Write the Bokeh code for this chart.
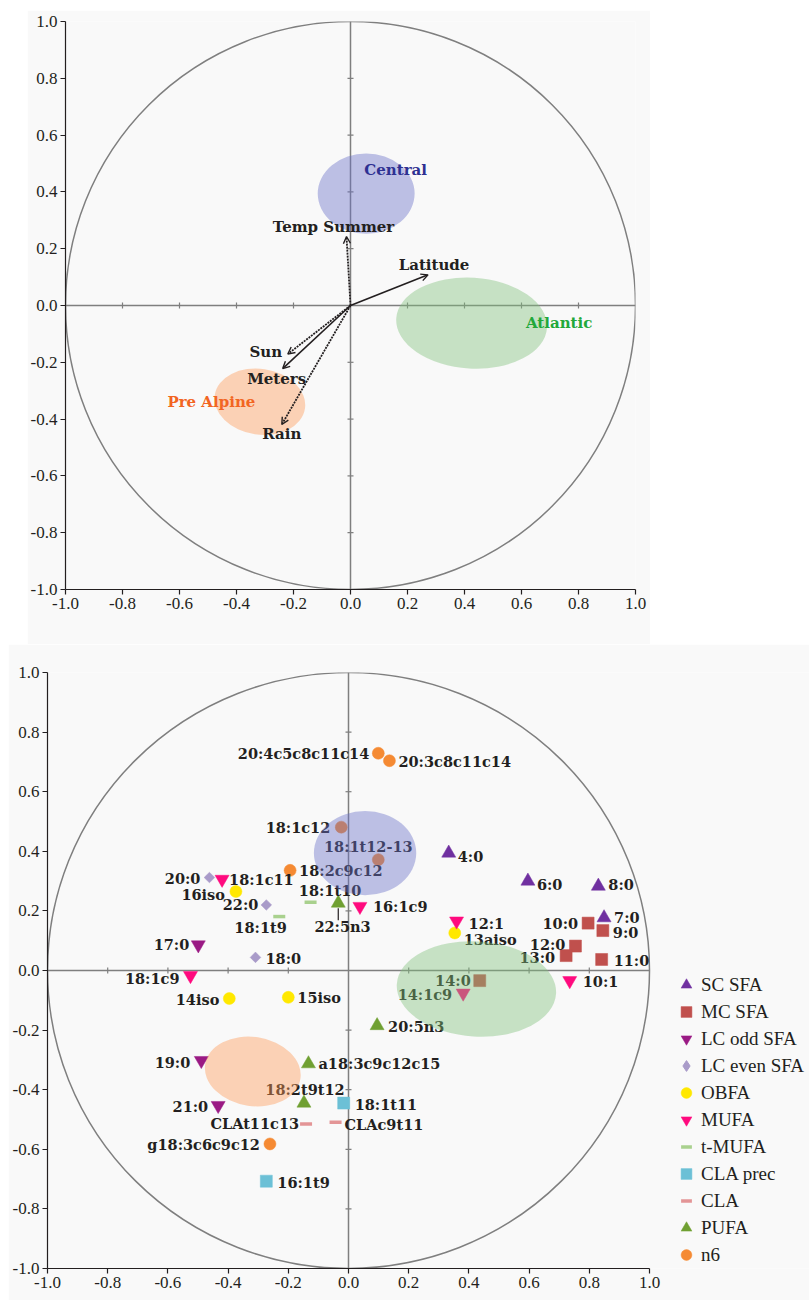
import math
import numpy as np
from bokeh.plotting import figure
from bokeh.models import (ColumnDataSource, Range1d, Arrow, OpenHead, Legend, LegendItem,
                          Spacer, FixedTicker, CustomJSTickFormatter)
from bokeh.layouts import column, row
from bokeh.embed import file_html
from bokeh.resources import INLINE
from bokeh.core.properties import value, field

# ------------------------------------------------------------------ data
TICKS = [-1.0, -0.8, -0.6, -0.4, -0.2, 0.0, 0.2, 0.4, 0.6, 0.8, 1.0]
INNER_TICKS = [-0.8, -0.6, -0.4, -0.2, 0.2, 0.4, 0.6, 0.8]
CIRCLE_R = 1.0

# climatic / geographic variables (top panel)
VAR_NAMES = ["Temp Summer", "Latitude", "Sun", "Meters", "Rain"]
VAR_X = [-0.014, 0.272, -0.220, -0.238, -0.241]
VAR_Y = [0.243, 0.108, -0.171, -0.222, -0.419]
VAR_DASHED = [True, False, True, False, True]

# regions (ellipses, both panels)
REGION_NAMES = ["Central", "Atlantic", "Pre Alpine"]
REGION_X = [0.055, 0.425, -0.318]
REGION_Y = [0.394, -0.062, -0.339]
REGION_W = [0.34, 0.53, 0.32]
REGION_H = [0.283, 0.32, 0.232]
REGION_ANGLE = [0.0, -0.06, -0.15]

# fatty acid groups (bottom panel)
GROUPS = ["SC SFA", "MC SFA", "LC odd SFA", "LC even SFA", "OBFA", "MUFA",
          "t-MUFA", "CLA prec", "CLA", "PUFA", "n6"]

FA_NAMES = ["4:0", "6:0", "8:0", "7:0",
            "10:0", "9:0", "12:0", "13:0", "11:0", "14:0",
            "17:0", "19:0", "21:0",
            "20:0", "22:0", "18:0",
            "16iso", "14iso", "15iso", "13aiso",
            "18:1c11", "16:1c9", "18:1c9", "12:1", "14:1c9", "10:1",
            "18:1t10", "18:1t9",
            "18:1t11", "16:1t9",
            "CLAt11c13", "CLAc9t11",
            "22:5n3", "20:5n3", "a18:3c9c12c15", "18:2t9t12",
            "20:4c5c8c11c14", "20:3c8c11c14", "18:1c12", "18:1t12-13", "18:2c9c12", "g18:3c6c9c12"]
FA_GROUP = (["SC SFA"] * 4 + ["MC SFA"] * 6 + ["LC odd SFA"] * 3 + ["LC even SFA"] * 3 +
            ["OBFA"] * 4 + ["MUFA"] * 6 + ["t-MUFA"] * 2 + ["CLA prec"] * 2 + ["CLA"] * 2 +
            ["PUFA"] * 4 + ["n6"] * 6)
FA_X = [0.333, 0.596, 0.830, 0.849,
        0.796, 0.845, 0.754, 0.723, 0.841, 0.436,
        -0.499, -0.489, -0.433,
        -0.462, -0.273, -0.309,
        -0.374, -0.396, -0.200, 0.353,
        -0.420, 0.038, -0.525, 0.359, 0.381, 0.735,
        -0.126, -0.230,
        -0.016, -0.273,
        -0.141, -0.043,
        -0.034, 0.095, -0.133, -0.148,
        0.099, 0.136, -0.024, 0.099, -0.194, -0.261]
FA_Y = [0.394, 0.300, 0.283, 0.177,
        0.159, 0.134, 0.082, 0.050, 0.037, -0.034,
        0.086, -0.302, -0.453,
        0.312, 0.220, 0.044,
        0.265, -0.094, -0.090, 0.126,
        0.306, 0.215, -0.017, 0.166, -0.076, -0.034,
        0.229, 0.181,
        -0.445, -0.707,
        -0.515, -0.509,
        0.226, -0.185, -0.313, -0.445,
        0.729, 0.704, 0.481, 0.372, 0.336, -0.582]

# ------------------------------------------------------------------ styles
BG = "#f9f9f9"
INK = "#231f20"
GRAY = "#7f7f7f"
SERIF = "DejaVu Serif"

REGION_FILL = ["#6871c7", "#80c27d", "#ff9c57"]
REGION_ALPHA = 0.42
REGION_TEXT_COLOR = ["#2e3192", "#22a83a", "#f26522"]
REGION_LABEL_OFFSET = [(29.5, -24), (87.5, 0), (-48.5, 0)]

VAR_LABEL_OFFSET = [(-13, -9), (6, -10), (-22, -2), (-6, 10), (0, 10)]

GROUP_STYLE = {
    "SC SFA": ("triangle", "#7030a0", 14, 0.0),
    "MC SFA": ("square", "#c0504d", 12, 0.0),
    "LC odd SFA": ("inverted_triangle", "#9a1a84", 14, 0.0),
    "LC even SFA": ("square", "#a99bc9", 7.5, math.pi / 4),
    "OBFA": ("circle", "#ffe800", 12, 0.0),
    "MUFA": ("inverted_triangle", "#ff0a7e", 14, 0.0),
    "t-MUFA": ("dash", "#a9d18e", 12, 0.0),
    "CLA prec": ("square", "#6cc0d6", 12, 0.0),
    "CLA": ("dash", "#e39596", 12, 0.0),
    "PUFA": ("triangle", "#70a032", 14, 0.0),
    "n6": ("circle", "#f58a33", 12, 0.0),
}

LABEL_PLACE = {
    "4:0": ("left", 9, 3), "6:0": ("left", 9, 3), "8:0": ("left", 10, -2), "7:0": ("left", 10, 0),
    "10:0": ("right", -10, 0), "9:0": ("left", 10, 2), "12:0": ("right", -10, -2),
    "13:0": ("right", -11, 2), "11:0": ("left", 12, 1), "14:0": ("right", -9, 0),
    "17:0": ("right", -9, 0), "19:0": ("right", -11, 2), "21:0": ("right", -10, 1),
    "20:0": ("right", -9, 1), "22:0": ("right", -8, 0), "18:0": ("left", 10, 1),
    "16iso": ("right", -11, 3), "14iso": ("right", -10, 1), "15iso": ("left", 9, 0),
    "13aiso": ("left", 9, 7),
    "18:1c11": ("left", 7, 0), "16:1c9": ("left", 13, 0), "18:1c9": ("right", -11, 3),
    "12:1": ("left", 12, 2), "14:1c9": ("right", -11, 1), "10:1": ("left", 13, 1),
    "18:1t10": ("center", 19.5, -12), "18:1t9": ("center", -18.7, 11.3),
    "18:1t11": ("left", 11, 1), "16:1t9": ("left", 11, 1),
    "CLAt11c13": ("right", -7, 0), "CLAc9t11": ("left", 9, 2),
    "22:5n3": ("center", 4.3, 23), "20:5n3": ("left", 11, 1),
    "a18:3c9c12c15": ("left", 10, 0), "18:2t9t12": ("center", 1, -14),
    "20:4c5c8c11c14": ("right", -9, 0), "20:3c8c11c14": ("left", 9, 1),
    "18:1c12": ("right", -11, 0), "18:1t12-13": ("center", -10, -13),
    "18:2c9c12": ("left", 9, 0), "g18:3c6c9c12": ("right", -10, 1),
}
LEADER_LABELS = ["22:5n3"]


def base_figure(width, height, left, right, top, bottom, x_end=1.0):
    p = figure(width=width, height=height, x_range=Range1d(-1, x_end), y_range=Range1d(-1, 1),
               output_backend="svg", toolbar_location=None,
               min_border_left=left, min_border_right=right,
               min_border_top=top, min_border_bottom=bottom)
    p.background_fill_color = BG
    p.border_fill_color = BG
    p.outline_line_color = None
    p.xgrid.visible = False
    p.ygrid.visible = False
    for ax in (p.xaxis[0], p.yaxis[0]):
        ax.ticker = FixedTicker(ticks=TICKS)
        ax.formatter = CustomJSTickFormatter(code="return tick.toFixed(1);")
        ax.bounds = (-1, 1)
        ax.axis_line_color = INK
        ax.axis_line_width = 1.2
        ax.major_tick_line_color = INK
        ax.major_tick_line_width = 1.2
        ax.major_tick_out = 5
        ax.major_tick_in = 0
        ax.minor_tick_line_color = None
        ax.major_label_text_font = "Liberation Serif"
        ax.major_label_text_font_size = "17px"
        ax.major_label_text_color = INK
        ax.major_label_standoff = 3
    # correlation circle and zero lines
    p.ellipse(x=[0], y=[0], width=[2 * CIRCLE_R], height=[2 * CIRCLE_R],
              fill_color=None, line_color=GRAY, line_width=1.5)
    p.segment(x0=[-CIRCLE_R, 0], y0=[0, -CIRCLE_R], x1=[CIRCLE_R, 0], y1=[0, CIRCLE_R],
              line_color=GRAY, line_width=1.5)
    p.scatter(x=[0] * len(INNER_TICKS), y=INNER_TICKS, marker="dash", size=6,
              line_color=GRAY, line_width=1.2)
    p.scatter(x=INNER_TICKS, y=[0] * len(INNER_TICKS), marker="dash", size=6,
              angle=math.pi / 2, line_color=GRAY, line_width=1.2)
    return p


def add_regions(p):
    src = ColumnDataSource(dict(x=REGION_X, y=REGION_Y, w=REGION_W, h=REGION_H,
                                a=REGION_ANGLE, c=REGION_FILL))
    p.ellipse(x="x", y="y", width="w", height="h", angle="a", source=src,
              fill_color="c", fill_alpha=REGION_ALPHA, line_color=None)


# ------------------------------------------------------------------ top panel
top = base_figure(623, 634, 36, 15, 11, 55)
add_regions(top)

for dashed in (False, True):
    idx = [i for i, d in enumerate(VAR_DASHED) if d == dashed]
    src = ColumnDataSource(dict(x0=[0.0] * len(idx), y0=[0.0] * len(idx),
                                x1=[VAR_X[i] for i in idx], y1=[VAR_Y[i] for i in idx]))
    arr = Arrow(x_start="x0", y_start="y0", x_end="x1", y_end="y1", source=src,
                line_color=INK, line_width=1.6 if not dashed else 1.8,
                line_dash="solid" if not dashed else "2 1",
                end=OpenHead(size=7, line_color=INK, line_width=1.4))
    top.add_layout(arr)

var_src = ColumnDataSource(dict(x=VAR_X, y=VAR_Y, t=VAR_NAMES,
                                dx=[o[0] for o in VAR_LABEL_OFFSET],
                                dy=[o[1] for o in VAR_LABEL_OFFSET]))
top.text(x="x", y="y", text="t", x_offset="dx", y_offset="dy", source=var_src,
         text_align="center", text_baseline="middle", text_font=value(SERIF),
         text_font_style="bold", text_font_size="15px", text_color=INK)

reg_src = ColumnDataSource(dict(x=REGION_X, y=REGION_Y, t=REGION_NAMES, c=REGION_TEXT_COLOR,
                                dx=[o[0] for o in REGION_LABEL_OFFSET],
                                dy=[o[1] for o in REGION_LABEL_OFFSET]))
top.text(x="x", y="y", text="t", x_offset="dx", y_offset="dy", source=reg_src,
         text_align="center", text_baseline="middle", text_font=value(SERIF),
         text_font_style="bold", text_font_size="15px", text_color="c")

# ------------------------------------------------------------------ bottom panel
# frame spans 762 px to the right edge of the page at 301 px per unit, so the
# legend to the right of the correlation circle stays inside the frame
BOT_X_END = 762.0 / 301.0 - 1.0
bot = base_figure(801, 656, 39, 0, 28, 32, x_end=BOT_X_END)

legend_items = []
for g in GROUPS:
    marker, color, size, angle = GROUP_STYLE[g]
    xs = [x for x, gg in zip(FA_X, FA_GROUP) if gg == g]
    ys = [y for y, gg in zip(FA_Y, FA_GROUP) if gg == g]
    if marker == "dash":
        r = bot.scatter(xs, ys, marker="dash", size=size, angle=angle,
                        line_color=color, line_width=3.5)
    else:
        r = bot.scatter(xs, ys, marker=marker, size=size, angle=angle,
                        fill_color=color, line_color=color, line_width=0.5)
    if g == "LC even SFA":
        # legend swatch drawn as a diamond (no visible point)
        r = bot.scatter(np.array([np.nan]), np.array([np.nan]), marker="diamond",
                        fill_color=color, line_color=color)
    legend_items.append(LegendItem(label=g, renderers=[r]))

lab_src = ColumnDataSource(dict(
    x=FA_X, y=FA_Y, t=FA_NAMES,
    align=[LABEL_PLACE[n][0] for n in FA_NAMES],
    dx=[LABEL_PLACE[n][1] for n in FA_NAMES],
    dy=[LABEL_PLACE[n][2] for n in FA_NAMES]))
bot.text(x="x", y="y", text="t", x_offset="dx", y_offset="dy", source=lab_src,
         text_align=field("align"), text_baseline="middle", text_font=value(SERIF),
         text_font_style="bold", text_font_size="14.5px", text_color=INK)

# leader line from point to its label
px_per_unit_y = 298.0
lx = [FA_X[FA_NAMES.index(n)] for n in LEADER_LABELS]
ly = [FA_Y[FA_NAMES.index(n)] for n in LEADER_LABELS]
bot.segment(x0=lx, x1=lx, y0=[y - 5 / px_per_unit_y for y in ly],
            y1=[y - 17 / px_per_unit_y for y in ly], line_color=INK, line_width=1.2)

add_regions(bot)

legend = Legend(items=legend_items, location=(624, 0), orientation="vertical",
                padding=0, margin=0, spacing=0, glyph_width=30, glyph_height=27,
                label_height=27, label_standoff=0,
                label_text_font="Liberation Serif", label_text_font_size="19px",
                label_text_color=INK, border_line_color=None, background_fill_alpha=0)
bot.add_layout(legend)

layout = column(
    Spacer(width=809, height=10),
    row(Spacer(width=27, height=634), top),
    row(Spacer(width=8, height=656), bot),
)
open("out.html", "w").write(file_html(layout, INLINE))
